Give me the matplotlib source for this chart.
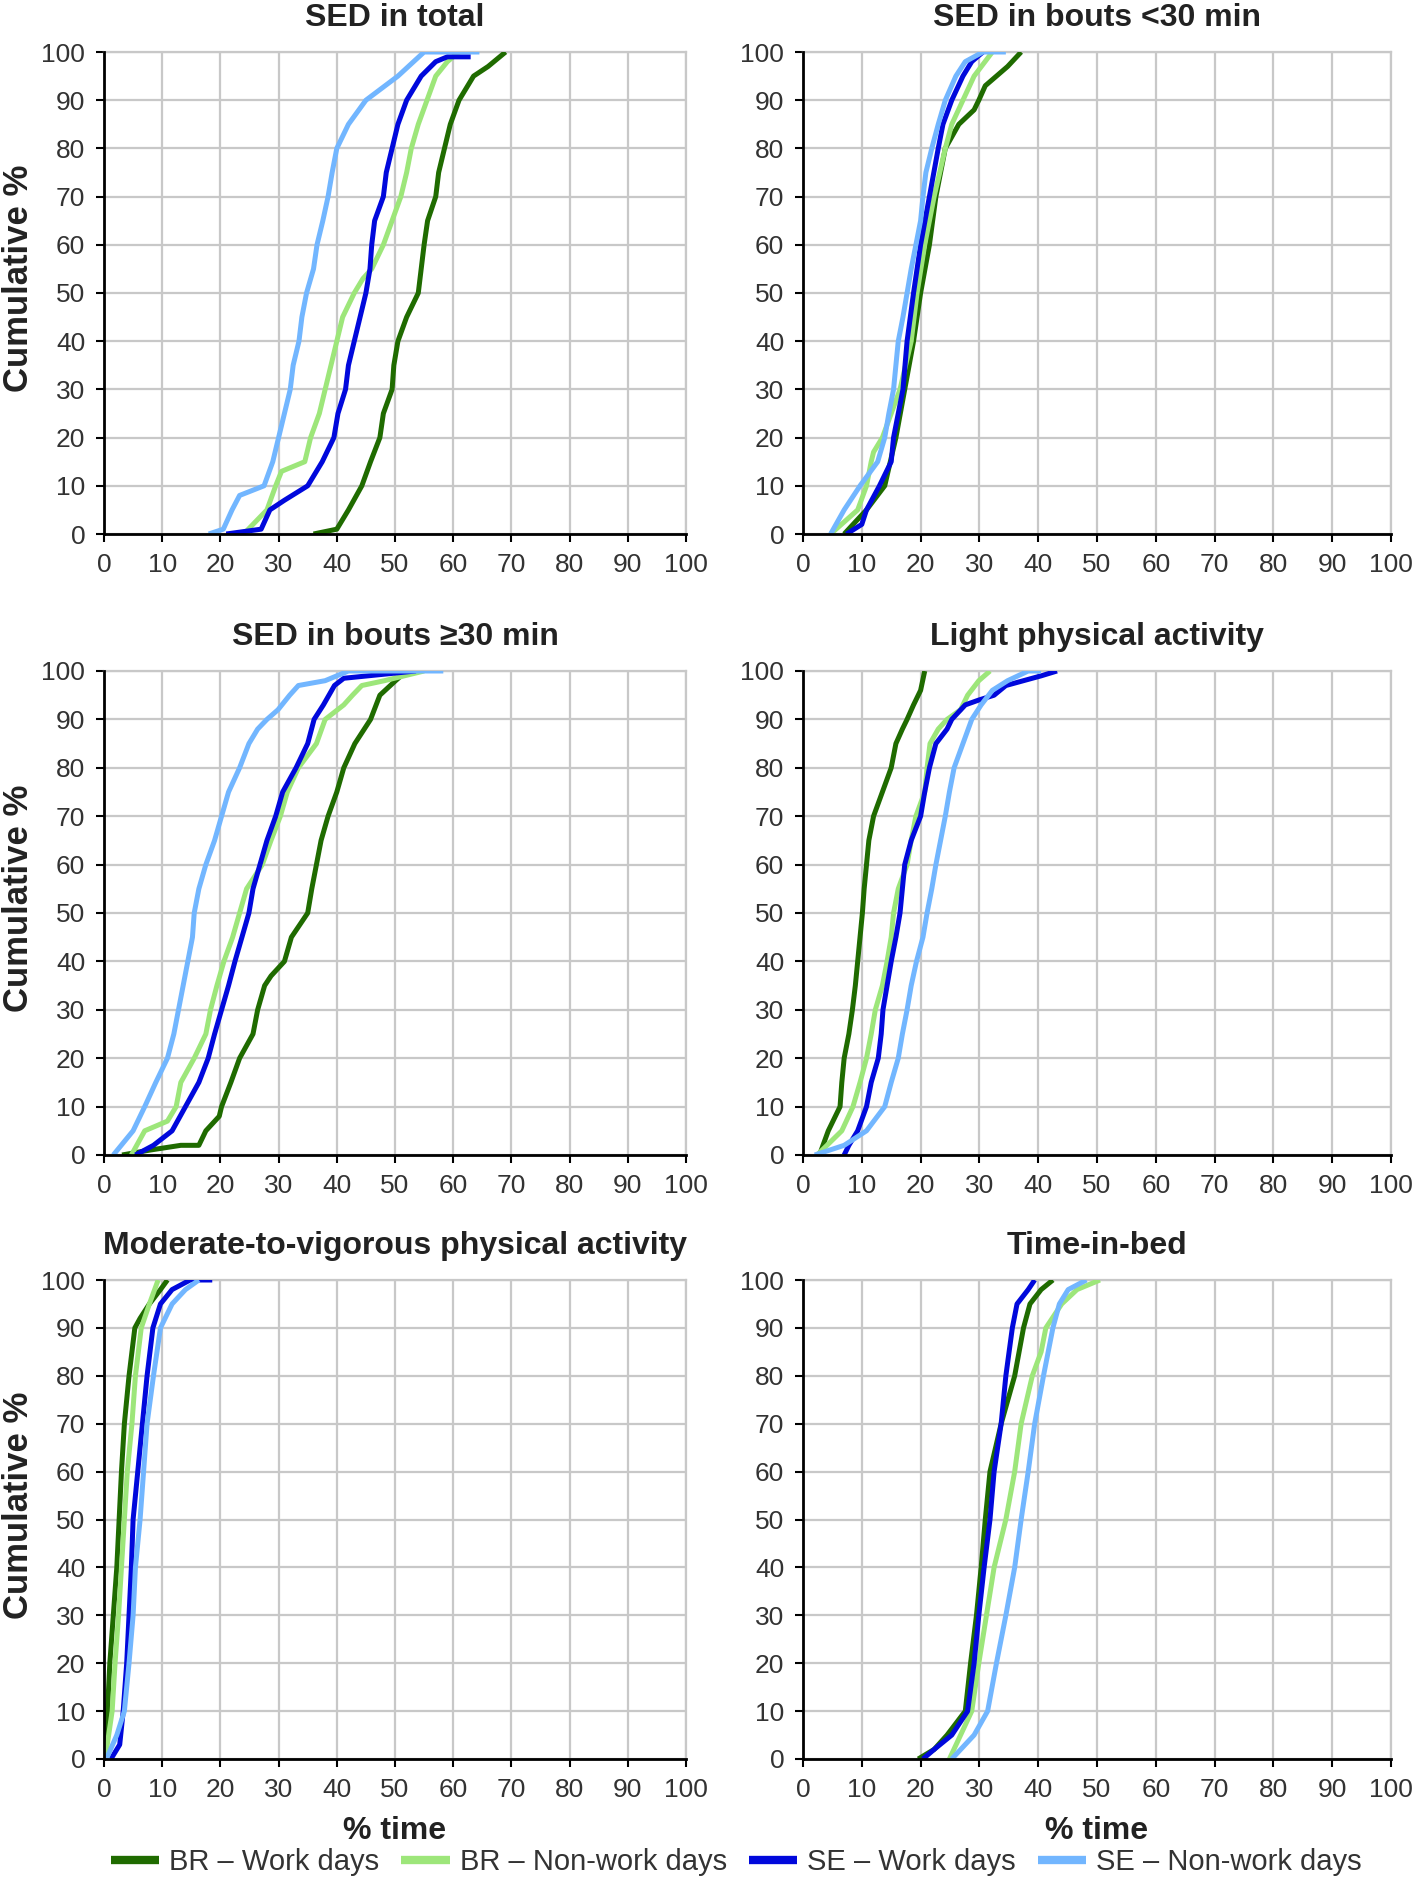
import matplotlib
matplotlib.use("Agg")
import matplotlib.pyplot as plt
from matplotlib.lines import Line2D

plt.rcParams["font.family"] = ["Liberation Sans", "DejaVu Sans"]

series = ["BR – Work days", "BR – Non-work days", "SE – Work days", "SE – Non-work days"]
colors = ["#1f6b00", "#9de67a", "#0008dc", "#72b6ff"]

# cumulative curves: (% time, cumulative %)
sed_total = [
    [(36, 0), (40, 1), (42, 5), (44.3, 10), (45.8, 15), (47.4, 20), (48, 25), (49.5, 30), (49.8, 35),
     (50.5, 40), (52, 45), (54, 50), (54.5, 55), (55, 60), (55.6, 65), (57, 70), (57.5, 75), (58.5, 80),
     (59.5, 85), (61, 90), (63.5, 95), (66, 97), (69, 100)],
    [(24, 0), (28, 5), (29.5, 10), (30.5, 13), (34.5, 15), (35.5, 20), (37, 25), (38, 30), (39, 35),
     (40, 40), (41, 45), (43, 50), (44.5, 53), (46, 55), (48, 60), (49.5, 65), (51, 70), (52, 75),
     (52.8, 80), (54, 85), (55.5, 90), (57, 95), (59, 98), (61, 100)],
    [(21, 0), (27, 1), (28.5, 5), (31, 7), (35, 10), (36.5, 13), (37.5, 15), (39.5, 20), (40.2, 25),
     (41.5, 30), (42, 35), (43, 40), (44, 45), (45, 50), (45.7, 55), (46, 60), (46.5, 65), (48, 70),
     (48.5, 75), (49.5, 80), (50.5, 85), (52, 90), (54.5, 95), (57, 98), (59, 99), (63, 99)],
    [(18, 0), (20.5, 1), (22, 5), (23.3, 8), (27.5, 10), (29, 15), (30, 20), (31, 25), (32, 30),
     (32.5, 35), (33.5, 40), (34, 45), (34.8, 50), (36, 55), (36.6, 60), (37.6, 65), (38.5, 70),
     (39.2, 75), (40, 80), (42, 85), (45, 90), (50.5, 95), (55, 100), (64.5, 100)],
]

sed_short = [
    [(7, 0), (10.8, 5), (13.9, 10), (15.8, 20), (17.3, 30), (18.8, 40), (20, 50), (21.5, 60), (22.6, 70),
     (24.2, 80), (26.5, 85), (29.1, 88), (29.9, 90), (31, 93), (32.9, 95), (34.8, 97), (37.1, 100)],
    [(4.7, 0), (9.3, 5), (10.8, 10), (11.6, 15), (12, 17), (13.5, 20), (15, 25), (16.5, 30), (18.4, 40),
     (19.4, 50), (20.7, 60), (22.3, 70), (24.2, 80), (25.3, 85), (27.2, 90), (29.1, 95), (32.2, 100)],
    [(7.4, 0), (10, 2), (10.8, 5), (13, 10), (15, 15), (15.4, 20), (16.2, 25), (17, 30), (17.7, 40),
     (18.8, 50), (20, 60), (21.5, 70), (23, 80), (23.8, 85), (25.3, 90), (27.2, 95), (28.7, 98), (30.6, 100)],
    [(4.7, 0), (7, 5), (9.7, 10), (12.7, 15), (13.9, 20), (14.6, 25), (15.4, 30), (15.8, 35), (16.2, 40),
     (17, 45), (17.7, 50), (18.4, 55), (19.2, 60), (20, 65), (20.4, 70), (20.9, 75), (21.9, 80), (23, 85),
     (24.2, 90), (26, 95), (27.6, 98), (30.6, 100), (34.5, 100)],
]

sed_long = [
    [(3.1, 0), (7.8, 1), (13.2, 2), (16.3, 2), (17.5, 5), (19.8, 8), (20.2, 10), (21.8, 15), (23.3, 20),
     (25.6, 25), (26.4, 30), (27.6, 35), (28.7, 37), (31, 40), (32.2, 45), (35, 50), (35.7, 55), (36.5, 60),
     (37.3, 65), (38.5, 70), (40, 75), (41.2, 80), (43.1, 85), (45.8, 90), (47.4, 95), (50.1, 98), (52, 100)],
    [(4.7, 0), (7, 5), (10.9, 7), (12.4, 10), (13.2, 15), (15.5, 20), (17.5, 25), (18.3, 30), (19.4, 35),
     (20.6, 40), (22.1, 45), (23.3, 50), (24.5, 55), (27.2, 60), (28.7, 65), (30.3, 70), (31.5, 75),
     (33.4, 80), (36.5, 85), (38, 90), (41.2, 93), (42.7, 95), (44.3, 97), (48.2, 98), (55, 100)],
    [(5.4, 0), (8.5, 2), (11.7, 5), (14, 10), (16.3, 15), (17.9, 20), (19, 25), (20.2, 30), (21.4, 35),
     (22.5, 40), (23.7, 45), (24.9, 50), (25.6, 55), (26.8, 60), (28, 65), (29.5, 70), (30.7, 75), (33, 80),
     (35, 85), (36.1, 90), (37.7, 93), (39.6, 97), (41.2, 98.5), (53.6, 100)],
    [(1.6, 0), (5, 5), (7, 10), (8.9, 15), (10.9, 20), (12, 25), (12.8, 30), (13.6, 35), (14.4, 40),
     (15.2, 45), (15.5, 50), (16.3, 55), (17.5, 60), (19, 65), (20.2, 70), (21.4, 75), (23.3, 80), (24.9, 85),
     (26.4, 88), (28, 90), (29.9, 92), (31.9, 95), (33.4, 97), (38, 98), (42, 100), (58.3, 100)],
]

light_pa = [
    [(2.8, 0), (4.3, 5), (5.5, 8), (6.3, 10), (6.6, 15), (7, 20), (7.8, 25), (8.4, 30), (8.9, 35), (9.3, 40),
     (9.7, 45), (10.1, 50), (10.4, 55), (10.8, 60), (11.2, 65), (12, 70), (13.5, 75), (15, 80), (15.8, 85),
     (16.9, 88), (17.7, 90), (18.8, 93), (20, 96), (20.7, 100)],
    [(2.4, 0), (6.6, 5), (8.5, 10), (9.7, 15), (10.8, 20), (11.6, 25), (12.3, 30), (13.5, 35), (14.3, 40),
     (15, 45), (15.4, 50), (16.2, 55), (17.7, 60), (18.4, 65), (19.2, 70), (20.7, 75), (21.1, 80), (21.6, 85),
     (23, 88), (24.5, 90), (26.8, 92), (28, 95), (29.9, 98), (31.8, 100)],
    [(7, 0), (7.8, 2), (9.3, 5), (10.8, 10), (11.6, 15), (12.8, 20), (13.3, 25), (13.6, 30), (14.3, 35),
     (15, 40), (15.8, 45), (16.5, 50), (16.9, 55), (17.3, 60), (18.4, 65), (20, 70), (20.7, 75), (21.5, 80),
     (22.6, 85), (24.5, 88), (25.3, 90), (27.6, 93), (29.9, 94), (32.5, 95), (34.5, 97), (37.5, 98),
     (40.5, 99), (43.2, 100)],
    [(2, 0), (7, 2), (10.8, 5), (13.9, 10), (15, 15), (16.2, 20), (16.9, 25), (17.7, 30), (18.4, 35),
     (19.3, 40), (20.4, 45), (21.1, 50), (21.9, 55), (22.6, 60), (23.4, 65), (24.2, 70), (24.9, 75),
     (25.7, 80), (27.2, 85), (28.7, 90), (30.3, 93), (32.2, 96), (34.8, 98), (38.3, 100), (40.5, 100)],
]

mvpa = [
    [(0, 0), (0.6, 10), (1, 20), (1.6, 30), (2.2, 40), (2.6, 50), (3, 60), (3.5, 70), (4.3, 80), (5.3, 90),
     (6.2, 92), (7.8, 95), (9.7, 98), (10.9, 100)],
    [(0.2, 0), (0.8, 5), (1.4, 10), (1.9, 20), (2.5, 30), (3, 40), (3.5, 50), (4, 60), (4.8, 70), (5.4, 80),
     (6.4, 90), (7.8, 95), (9.3, 100)],
    [(1.2, 0), (2.7, 3), (3.3, 10), (3.9, 20), (4.3, 30), (4.7, 40), (5, 50), (5.8, 60), (6.6, 70), (7.4, 80),
     (8.4, 90), (9.7, 95), (11.7, 98), (14.8, 100), (18.6, 100)],
    [(0.4, 0), (2.2, 5), (3.5, 10), (4.3, 20), (5, 30), (5.4, 40), (6.2, 50), (6.8, 60), (7.4, 70), (8.5, 80),
     (9.7, 90), (11.7, 95), (14, 98), (16.3, 100)],
]

time_in_bed = [
    [(19.6, 0), (22.3, 2), (24.5, 5), (27.6, 10), (28.5, 20), (29.5, 30), (30.3, 40), (31, 50), (31.8, 60),
     (33.7, 70), (36, 80), (37.5, 90), (38.6, 95), (40.5, 98), (42.5, 100)],
    [(24.9, 0), (26.8, 5), (28.7, 10), (29.9, 20), (31.2, 30), (32.5, 40), (34.5, 50), (36, 60), (37.1, 70),
     (39, 80), (40.5, 85), (41.3, 90), (44, 95), (46.6, 98), (50.5, 100)],
    [(20.4, 0), (22.3, 2), (25.3, 5), (28, 10), (29.1, 20), (29.9, 30), (30.8, 40), (31.8, 50), (32.5, 60),
     (33.7, 70), (34.5, 80), (35.6, 90), (36.4, 95), (38.3, 98), (39.4, 100)],
    [(25.3, 0), (29.1, 5), (31.4, 10), (32.9, 20), (34.5, 30), (36, 40), (37.1, 50), (38.3, 60), (39.4, 70),
     (40.9, 80), (42.5, 90), (43.6, 95), (45.1, 98), (48.2, 100)],
]

titles = ["SED in total", "SED in bouts <30 min", "SED in bouts \u226530 min",
          "Light physical activity", "Moderate-to-vigorous physical activity", "Time-in-bed"]
panels = [sed_total, sed_short, sed_long, light_pa, mvpa, time_in_bed]
ticks = list(range(0, 101, 10))

W, H = 1416, 1880
fig = plt.figure(figsize=(W / 100, H / 100), dpi=100)

# axes boxes in pixels: left, top, right, bottom
col_x = [(104, 686), (803, 1391)]
row_y = [(52, 534), (671, 1155), (1280, 1759)]

for i, (title, curves) in enumerate(zip(titles, panels)):
    r, c = divmod(i, 2)
    x0, x1 = col_x[c]
    y0, y1 = row_y[r]
    ax = fig.add_axes([x0 / W, 1 - y1 / H, (x1 - x0) / W, (y1 - y0) / H])
    for pts, col in zip(curves, colors):
        xs = [p[0] for p in pts]
        ys = [p[1] for p in pts]
        ax.plot(xs, ys, color=col, lw=3.6, solid_capstyle="butt", zorder=3)
    ax.set_xlim(0, 100)
    ax.set_ylim(0, 100)
    ax.set_xticks(ticks)
    ax.set_yticks(ticks)
    ax.grid(True, color="#c8c8c8", lw=1.6)
    ax.set_axisbelow(True)
    for s in ["top", "right"]:
        ax.spines[s].set_color("#c8c8c8")
        ax.spines[s].set_linewidth(1.6)
    for s in ["left", "bottom"]:
        ax.spines[s].set_color("black")
        ax.spines[s].set_linewidth(2)
        ax.spines[s].set_zorder(4)
    ax.tick_params(direction="out", length=5.5, width=1.5, labelsize=19, labelcolor="#333333")
    ax.tick_params(axis="x", pad=8.5)
    ax.tick_params(axis="y", pad=8)
    ax.set_title(title, fontsize=23, fontweight="bold", color="#222222", pad=19)
    if c == 0:
        ax.set_ylabel("Cumulative %", fontsize=25, fontweight="bold", color="#222222")
        ax.yaxis.set_label_coords(-0.118, 0.53)
    if r == 2:
        ax.set_xlabel("% time", fontsize=23, fontweight="bold", color="#222222")
        ax.xaxis.set_label_coords(0.5, -0.12)

handles = [Line2D([], [], color=col, lw=6, solid_capstyle="butt") for col in colors]
fig.legend(handles, series, loc="center", bbox_to_anchor=(0.52, 0.0096), ncol=4, frameon=False,
           fontsize=21, handlelength=1.65, handletextpad=0.35, columnspacing=0.75,
           labelcolor="#333333")

fig.savefig("out.png", dpi=100)
